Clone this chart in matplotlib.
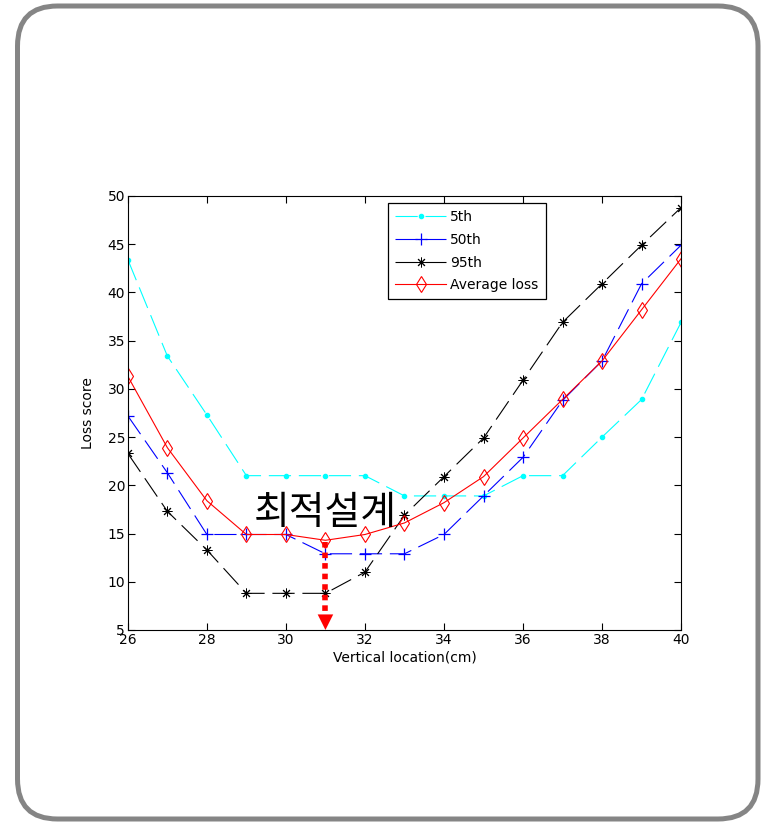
import matplotlib.pyplot as plt
import numpy as np
from matplotlib.patches import FancyBboxPatch

plt.rcParams['font.family'] = ['DejaVu Sans']

# loss score by vertical location
location = [26, 27, 28, 29, 30, 31, 32, 33, 34, 35, 36, 37, 38, 39, 40]
p5 = [43.4, 33.4, 27.3, 21.0, 21.0, 21.0, 21.0, 18.9, 18.9, 18.9, 21.0, 21.0, 25.0, 28.9, 36.9]
p50 = [27.2, 21.3, 14.9, 14.9, 14.9, 12.9, 12.9, 12.9, 14.9, 18.9, 22.9, 28.8, 32.9, 40.9, 44.9]
p95 = [23.3, 17.3, 13.3, 8.8, 8.8, 8.8, 11.0, 16.9, 20.9, 24.9, 30.9, 36.9, 40.9, 44.9, 48.8]
avg_loss = [31.3, 23.9, 18.4, 14.9, 14.9, 14.3, 14.9, 16.1, 18.2, 20.9, 24.9, 28.9, 32.9, 38.2, 43.5]
labels = ['5th', '50th', '95th', 'Average loss']

fig = plt.figure(figsize=(7.61, 8.22), dpi=100)
fig.patch.set_facecolor('white')

# rounded outer frame
frame = FancyBboxPatch((0.175, 0.03), 7.405, 8.13,
                       boxstyle='round,pad=0,rounding_size=0.40',
                       transform=fig.dpi_scale_trans, fill=False,
                       edgecolor='#858585', linewidth=3.6)
fig.patches.append(frame)

ax = fig.add_axes([0.168, 0.2336, 0.727, 0.528])

dash = (20, 7)
ax.plot(location, p5, color='cyan', lw=0.8, dashes=dash, marker='.', ms=6)
ax.plot(location, p50, color='blue', lw=0.8, dashes=dash, marker='+', ms=9, mew=0.9)
ax.plot(location, p95, color='black', lw=0.8, dashes=dash, marker=(8, 2, 0), ms=7, mew=0.7)
ax.plot(location, avg_loss, color='red', lw=0.8, marker='d', ms=8, mfc='none', mew=0.8)

ax.set_xlim(26, 40)
ax.set_ylim(5, 50)
ax.set_xticks(np.arange(26, 41, 2))
ax.set_yticks(np.arange(5, 51, 5))
ax.tick_params(direction='in', length=5, width=0.8, top=True, right=True,
               labelsize=10, pad=2)
for s in ax.spines.values():
    s.set_linewidth(0.8)

ax.set_xlabel('Vertical location(cm)', fontsize=10, labelpad=3)
ax.set_ylabel('Loss score', fontsize=10, labelpad=9)

leg = ax.legend(labels, loc='upper left', bbox_to_anchor=(0.47, 0.983),
                fontsize=10, fancybox=False, edgecolor='black', framealpha=1,
                handlelength=3.7, labelspacing=0.62, borderpad=0.5,
                handletextpad=0.3, borderaxespad=0)
leg.get_frame().set_linewidth(0.9)

# optimum design marker
i_opt = int(np.argmin(avg_loss))
x_opt = location[i_opt]
y_bot = ax.get_ylim()[0]
ax.plot([x_opt, x_opt], [avg_loss[i_opt] - 0.2, y_bot + 1.7], color='red',
        lw=4, linestyle=(0, (1, 0.9)), solid_capstyle='butt')
ax.annotate('', xy=(x_opt, y_bot), xytext=(x_opt, y_bot + 1.8),
            arrowprops=dict(arrowstyle='-|>', color='red', lw=0,
                            mutation_scale=28, shrinkA=0, shrinkB=0),
            annotation_clip=False)
ax.text(x_opt, 17.1, '최적설계', fontsize=28, ha='center', va='center',
        family=['Noto Sans CJK KR', 'DejaVu Sans'])

fig.savefig('out.png', dpi=100)
